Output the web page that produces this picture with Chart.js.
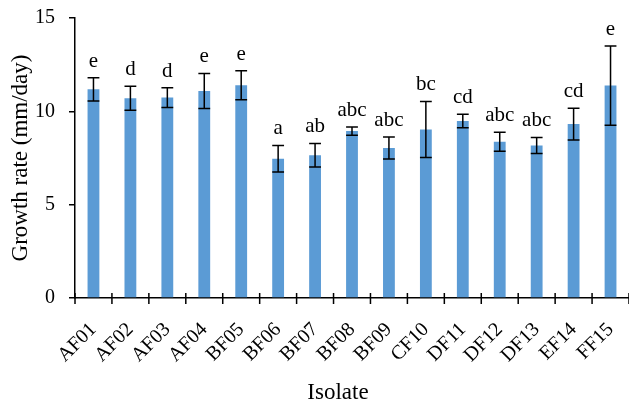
<!DOCTYPE html>
<html>
<head>
<meta charset="utf-8">
<script src="https://cdn.jsdelivr.net/npm/chart.js@4"></script>
<style>
  html, body { margin: 0; padding: 0; background: #fff; }
  #wrap { width: 629px; height: 403px; }
</style>
</head>
<body>
<div id="wrap"><canvas id="chart" width="629" height="403"></canvas></div>
<script>
// data
const isolates = ['AF01','AF02','AF03','AF04','BF05','BF06','BF07','BF08','BF09','CF10','DF11','DF12','DF13','EF14','FF15'];
const growthRate = [11.18, 10.70, 10.74, 11.09, 11.40, 7.46, 7.65, 8.94, 8.03, 9.03, 9.48, 8.37, 8.17, 9.32, 11.38];
const errors = [0.62, 0.64, 0.53, 0.94, 0.78, 0.71, 0.63, 0.22, 0.59, 1.50, 0.36, 0.51, 0.43, 0.85, 2.12];
const groups = ['e','d','d','e','e','a','ab','abc','abc','bc','cd','abc','abc','cd','e'];
const yTicks = [0, 5, 10, 15];

const serif = '"Liberation Serif", "Times New Roman", serif';

// error bars + significance letters + crossing x ticks + x title
const extras = {
    id: 'extras',
    afterDatasetsDraw(chart) {
        const ctx = chart.ctx;
        const xs = chart.scales.x, ys = chart.scales.y;
        const meta = chart.getDatasetMeta(0);
        ctx.save();
        ctx.strokeStyle = '#000';
        ctx.lineWidth = 1.5;
        meta.data.forEach((bar, i) => {
            const x = bar.x;
            const hw = bar.width / 2;
            const top = ys.getPixelForValue(growthRate[i] + errors[i]);
            const bot = ys.getPixelForValue(growthRate[i] - errors[i]);
            ctx.beginPath();
            ctx.moveTo(x, top); ctx.lineTo(x, bot);
            ctx.moveTo(x - hw, top); ctx.lineTo(x + hw, top);
            ctx.moveTo(x - hw, bot); ctx.lineTo(x + hw, bot);
            ctx.stroke();

            ctx.fillStyle = '#000';
            ctx.font = '21px ' + serif;
            ctx.textAlign = 'center';
            ctx.textBaseline = 'alphabetic';
            ctx.fillText(groups[i], x, top - 11);
        });

        // x axis tick marks crossing the axis line
        const step = xs.getPixelForValue(1) - xs.getPixelForValue(0);
        const yb = ys.getPixelForValue(0);
        ctx.beginPath();
        for (let i = 0; i <= isolates.length; i++) {
            const tx = xs.getPixelForValue(0) - step / 2 + i * step;
            ctx.moveTo(tx, yb - 5);
            ctx.lineTo(tx, yb + 6);
        }
        ctx.stroke();

        // x title sits a bit left of the plot centre in the original
        ctx.font = '23px ' + serif;
        ctx.fillText('Isolate', (xs.left + xs.right) / 2 - 14, xs.bottom - 4);
        ctx.restore();
    }
};

const myChart = new Chart(document.getElementById('chart'), {
    type: 'bar',
    data: {
        labels: isolates,
        datasets: [{
            data: growthRate,
            backgroundColor: '#5B9BD5',
            borderWidth: 0,
            barPercentage: 0.32,
            categoryPercentage: 1
        }]
    },
    options: {
        responsive: false,
        animation: false,
        layout: { padding: { top: 18, right: 0, left: 0, bottom: 0 } },
        plugins: { legend: { display: false }, tooltip: { enabled: false } },
        scales: {
            x: {
                grid: { display: false, drawTicks: false },
                border: { color: '#000', width: 1.5 },
                ticks: {
                    color: '#000', font: { family: serif, size: 20 },
                    maxRotation: 45, minRotation: 45, padding: 20, autoSkip: false
                },
                title: { display: false },
                afterFit: (s) => { s.height = 105; s.paddingLeft = 0; s.paddingRight = 0; }
            },
            y: {
                min: 0, max: 15,
                afterBuildTicks: (s) => { s.ticks = yTicks.map(v => ({ value: v })); },
                grid: { display: true, drawOnChartArea: false, tickLength: 6, color: '#000', lineWidth: 1.5 },
                border: { color: '#000', width: 1.5 },
                ticks: { color: '#000', font: { family: serif, size: 20 }, padding: 14 },
                title: {
                    display: true, text: 'Growth rate (mm/day)', color: '#000',
                    font: { family: serif, size: 23 }, padding: { top: 7, bottom: 0 }
                },
                afterFit: (s) => { s.width = 75; s.paddingTop = 0; s.paddingBottom = 0; }
            }
        }
    },
    plugins: [extras]
});
</script>
</body>
</html>
